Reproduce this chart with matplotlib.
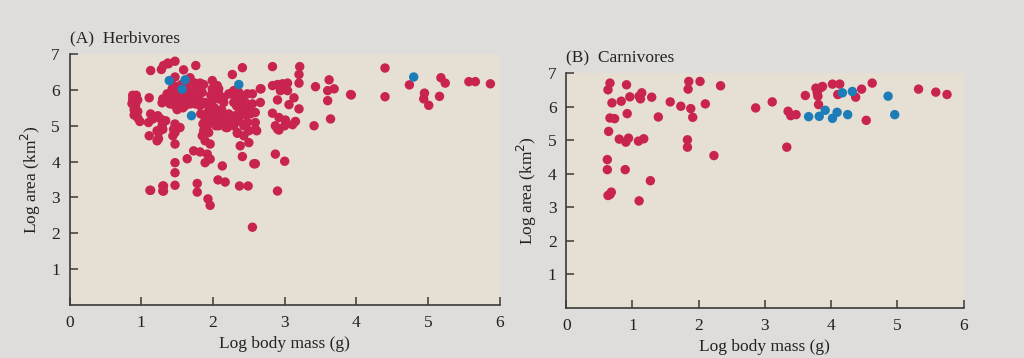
import matplotlib
matplotlib.use("Agg")
import matplotlib.pyplot as plt

# Panel A: herbivores (log body mass g, log area km2)
herb_red_x = [0.88, 0.93, 0.88, 0.95, 0.87, 0.92, 0.90, 0.95, 0.90, 0.95, 0.98,
              1.13, 1.11, 1.13, 1.16, 1.10, 1.11, 1.23, 1.27, 1.29, 1.22, 1.24, 1.30, 1.34,
              1.13, 1.30, 1.30, 1.29, 1.28, 1.31, 1.37, 1.30, 1.36, 1.43,
              1.47, 1.38, 1.59, 1.76, 2.41, 2.27,
              1.47, 1.68, 1.75, 1.82, 1.87, 1.99, 2.06, 1.45, 1.52, 1.99,
              1.43, 1.50, 1.57, 1.64, 1.71, 1.78, 1.85, 1.80, 1.73, 1.66, 1.59, 1.52, 1.45, 1.38,
              2.08, 2.15, 2.22, 2.29, 2.36, 2.41, 2.48, 2.55, 2.31,
              1.40, 1.47, 1.54, 1.61, 1.68, 1.75, 1.82, 1.89, 1.99, 2.15, 2.29, 2.38, 2.45, 2.55,
              2.36, 2.50,
              1.94, 1.89, 2.03, 2.13, 2.22, 2.31, 2.41, 2.52, 1.96, 2.06, 2.15, 2.27, 2.36, 2.48,
              2.59, 2.08, 2.20, 2.29, 2.43, 1.47, 1.54, 1.45, 1.89, 1.94, 2.34, 2.50, 2.59,
              1.83, 1.89, 1.94, 1.86, 1.92, 1.99, 2.04, 2.08, 2.08,
              2.83, 3.21, 3.20, 3.20, 3.62, 3.43, 3.60, 3.69, 2.66, 2.83, 2.90, 2.97, 3.04,
              2.94, 3.04, 3.13, 2.90, 2.66, 3.06, 3.60, 3.20, 2.59, 2.83, 2.92, 3.01, 3.15,
              3.64, 2.87, 3.00, 3.11, 3.41, 2.92, 2.61, 2.67, 3.93,
              3.92, 4.40, 4.40, 4.74, 4.95, 4.94, 5.01, 5.16, 5.18, 5.24, 5.57, 5.66, 5.87,
              1.24, 1.22, 1.44, 1.12, 1.31, 1.31,
              1.47, 1.47, 1.47, 1.47, 1.47, 1.87, 1.85, 1.89, 1.96, 1.73, 1.82, 1.92, 1.64,
              1.89, 1.96, 2.13, 2.34, 2.43, 2.50, 2.38, 2.41, 2.57, 1.78, 1.78, 2.07, 2.17,
              2.37, 2.49, 1.93, 1.96,
              2.90, 2.87, 3.00, 2.59, 2.90, 2.55,
              1.56, 1.62, 1.70, 1.66, 1.74, 1.58, 1.50, 1.92, 1.97, 2.02, 2.12, 2.25, 2.33,
              2.40, 2.46, 2.26, 2.18]
herb_red_y = [5.85, 5.85, 5.75, 5.72, 5.62, 5.58, 5.45, 5.40, 5.30, 5.22, 5.12,
              6.54, 5.78, 5.33, 5.19, 5.09, 4.72, 5.28, 5.19, 5.00, 4.86, 4.64, 4.90, 5.14,
              3.20, 3.32, 3.18, 5.64, 6.57, 6.68, 6.75, 5.75, 5.89, 6.03,
              6.80, 6.73, 6.56, 6.68, 6.62, 6.43,
              6.36, 6.34, 6.19, 6.19, 6.15, 6.26, 6.12, 6.12, 6.08, 6.03,
              5.93, 5.89, 5.95, 5.93, 5.98, 6.03, 5.93, 5.79, 5.79, 5.75, 5.79, 5.75, 5.79, 5.75,
              5.89, 5.79, 5.89, 5.98, 5.93, 5.83, 5.89, 5.89, 5.79,
              5.61, 5.56, 5.63, 5.56, 5.61, 5.61, 5.56, 5.65, 5.70, 5.65, 5.65, 5.70, 5.65, 5.61,
              5.51, 5.47,
              5.42, 5.28, 5.33, 5.37, 5.33, 5.28, 5.33, 5.33, 5.14, 5.19, 5.14, 5.19, 5.14, 5.09,
              5.09, 5.00, 4.95, 5.00, 5.00, 5.05, 4.95, 4.90, 4.88, 4.81, 4.81, 4.86, 4.90,
              5.33, 5.19, 5.28, 5.05, 5.00, 5.14, 5.00, 6.03, 5.75,
              6.65, 6.65, 6.43, 6.19, 6.28, 6.09, 5.98, 6.03, 6.03, 6.12, 6.15, 6.17, 6.19,
              5.98, 5.98, 5.78, 5.72, 5.65, 5.59, 5.70, 5.47, 5.37, 5.35, 5.23, 5.16, 5.12,
              5.19, 5.00, 5.00, 5.03, 5.00, 4.88, 4.86, 6.03, 5.86,
              5.87, 6.61, 5.81, 6.14, 5.91, 5.75, 5.57, 5.82, 6.34, 6.19, 6.23, 6.23, 6.17,
              4.81, 4.58, 4.72, 3.20, 3.32, 3.18,
              4.81, 4.49, 3.97, 3.69, 3.34, 4.86, 4.72, 4.58, 4.49, 4.30, 4.27, 4.21, 4.08,
              3.97, 4.07, 3.88, 4.79, 4.72, 4.53, 4.44, 4.14, 3.94, 3.39, 3.15, 3.49, 3.43,
              3.32, 3.32, 2.96, 2.78,
              4.91, 4.21, 4.01, 3.94, 3.18, 2.17,
              6.15, 6.05, 5.85, 6.22, 5.70, 5.50, 5.45, 5.60, 5.85, 5.50, 5.45, 5.90, 5.55,
              5.50, 5.30, 5.10, 4.95]
herb_blue_x = [1.39, 1.61, 1.57, 1.70, 2.36, 4.80]
herb_blue_y = [6.26, 6.28, 6.02, 5.28, 6.15, 6.36]

# Panel B: carnivores
carn_red_x = [0.66, 0.63, 0.69, 0.66, 0.73, 0.64, 0.62, 0.62, 0.63, 0.68, 0.66,
              0.91, 0.83, 0.96, 0.92, 0.80, 0.94, 0.90, 0.89, 1.10, 1.14, 1.12, 1.29, 1.09,
              1.17, 1.27, 1.10, 1.39, 1.57, 1.73, 1.85, 2.02, 1.84, 1.88, 1.91, 1.83, 1.83,
              2.10, 2.33, 2.23, 2.86, 3.11, 3.33, 3.35, 3.39, 3.47, 3.61, 3.77, 3.85, 3.79,
              3.80, 3.87, 3.81, 4.02, 4.13, 4.10, 4.37, 4.46, 4.62, 4.53, 5.32, 5.58, 5.75]
carn_red_y = [6.70, 6.50, 6.11, 5.66, 5.64, 5.26, 4.42, 4.12, 3.35, 3.45, 3.38,
              6.65, 6.16, 6.29, 5.79, 5.03, 5.06, 4.94, 4.12, 6.31, 6.41, 6.23, 6.28, 4.97,
              5.04, 3.79, 3.19, 5.69, 6.14, 6.01, 6.75, 6.75, 6.52, 5.94, 5.68, 5.01, 4.79,
              6.08, 6.62, 4.54, 5.96, 6.14, 4.79, 5.86, 5.73, 5.76, 6.33, 6.55, 6.57, 6.41,
              6.31, 6.60, 6.06, 6.67, 6.67, 6.36, 6.28, 6.52, 6.70, 5.59, 6.52, 6.43, 6.36]
carn_blue_x = [3.66, 3.82, 3.91, 4.02, 4.09, 4.25, 4.17, 4.32, 4.86, 4.96]
carn_blue_y = [5.70, 5.71, 5.89, 5.65, 5.83, 5.76, 6.41, 6.45, 6.31, 5.76]

red = '#c8244f'
blue = '#1c7db8'
ink = '#3a3a3a'

plt.rcParams['font.family'] = ['Liberation Serif', 'DejaVu Serif']

fig = plt.figure(figsize=(10.24, 3.58), dpi=100)
fig.patch.set_facecolor('#dedddb')

ax1 = fig.add_axes([0.068, 0.148, 0.420, 0.701])
ax2 = fig.add_axes([0.553, 0.140, 0.388, 0.656])

panels = [(ax1, herb_red_x, herb_red_y, herb_blue_x, herb_blue_y, '(A)  Herbivores'),
          (ax2, carn_red_x, carn_red_y, carn_blue_x, carn_blue_y, '(B)  Carnivores')]

for ax, rx, ry, bx, by, title in panels:
    ax.set_facecolor('#e6dfd3')
    ax.scatter(rx, ry, s=46, color=red, edgecolors='none', zorder=3, clip_on=False)
    ax.scatter(bx, by, s=46, color=blue, edgecolors='none', zorder=4, clip_on=False)
    ax.set_xlim(0, 6)
    ax.set_ylim(0, 7)
    ax.set_xticks(range(0, 7))
    ax.set_yticks(range(1, 8))
    for s in ['top', 'right']:
        ax.spines[s].set_visible(False)
    for s in ['left', 'bottom']:
        ax.spines[s].set_color(ink)
        ax.spines[s].set_linewidth(1.2)
    ax.tick_params(direction='in', length=6, width=1.1, color=ink,
                   labelsize=12.5, labelcolor='#222222', pad=7)
    ax.set_xlabel('Log body mass (g)', fontsize=12.5, color='#222222', labelpad=4)
    ax.set_ylabel('Log area (km$^2$)', fontsize=12.5, color='#222222', labelpad=6)
    ax.text(0.0, 1.03, title, transform=ax.transAxes, fontsize=12.5,
            color='#222222', ha='left', va='bottom')

fig.savefig('out.png', dpi=100, facecolor=fig.get_facecolor())
